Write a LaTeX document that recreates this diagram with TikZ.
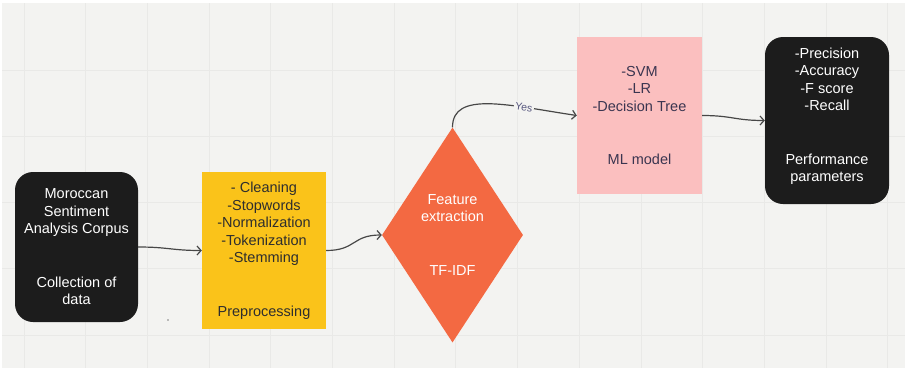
\documentclass[tikz,border=0pt]{standalone}
\usepackage{fontspec}
\setmainfont{Liberation Sans}
\usetikzlibrary{shapes.geometric,arrows.meta}
\definecolor{bg}{HTML}{F3F3F1}
\definecolor{gridc}{HTML}{E9E9E7}
\definecolor{blk}{HTML}{1C1C1C}
\definecolor{ylw}{HTML}{FAC31A}
\definecolor{org}{HTML}{F36942}
\definecolor{pnk}{HTML}{FBBFBF}
\definecolor{arr}{HTML}{474747}
\definecolor{yes}{HTML}{56567E}
\definecolor{ink}{HTML}{2E2E2E}
\definecolor{inkp}{HTML}{3A3550}

\tikzset{
  box/.style={inner sep=0pt, align=center, font=\fontsize{14.5}{17.5}\selectfont},
  blackbox/.style={box, fill=blk, text=white, rounded corners=18pt},
  flow/.style={arr, line width=1.2pt, -{Straight Barb[length=4pt,width=9pt]}},
}

\begin{document}
\begin{tikzpicture}[x=1pt,y=-1pt]
  \fill[white] (0,0) rectangle (906,370);
  \fill[bg] (2,3) rectangle (905,368);
  \foreach \i in {0,...,14}
    \draw[gridc, line width=1pt] ({24+61.7*\i},3) -- ({24+61.7*\i},368);
  \foreach \j in {0,...,4}
    \draw[gridc, line width=1pt] (2,{70+66.25*\j}) -- (905,{70+66.25*\j});
  \fill[gray] (168,320) circle (0.8pt);

  \node[blackbox, minimum width=123pt, minimum height=150pt] (corpus) at (76.5,247)
    {Moroccan\\Sentiment\\Analysis Corpus\\[36pt]Collection of\\data};
  \node[box, fill=ylw, text=ink, minimum width=124pt, minimum height=157pt] (prep) at (264,250.5)
    {- Cleaning\\-Stopwords\\-Normalization\\-Tokenization\\-Stemming\\[36pt]Preprocessing};
  \node[box, diamond, aspect=0.656, fill=org, text=white, minimum width=141pt, minimum height=215pt] (feat) at (452.5,235)
    {Feature\\extraction\\[36pt]TF-IDF};
  \node[box, fill=pnk, text=inkp, minimum width=125pt, minimum height=157pt] (ml) at (639.5,115.5)
    {-SVM\\-LR\\-Decision Tree\\[36pt]ML model};
  \node[blackbox, minimum width=124pt, minimum height=167pt] (perf) at (827,120.5)
    {-Precision\\-Accuracy\\-F score\\-Recall\\[36pt]Performance\\parameters\\[-6pt]};

  \draw[flow] (corpus.east) .. controls +(30,0) and +(-30,0) .. (prep.west);
  \draw[flow] (prep.east) .. controls +(30,0) and +(-30,0) .. (feat.west);
  \draw[flow] (feat.north) .. controls +(0,-37) and +(-67,-10) .. (ml.west)
    node[pos=0.72, sloped, fill=bg, inner sep=1.5pt, text=yes, font=\fontsize{10.5}{12}\selectfont] {Yes};
  \draw[flow] (ml.east) .. controls +(30,0) and +(-30,0) .. (perf.west);
\end{tikzpicture}
\end{document}
